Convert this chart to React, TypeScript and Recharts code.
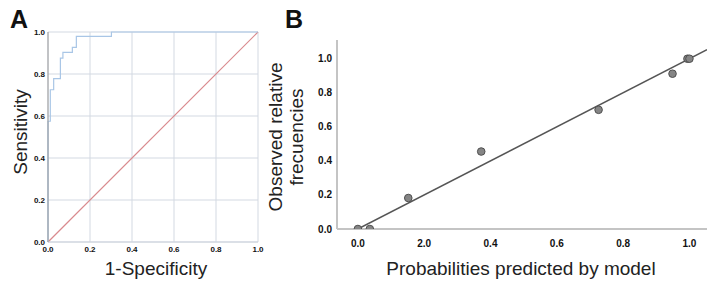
import React from 'react';
import { ComposedChart, Line, Scatter, XAxis, YAxis, CartesianGrid } from 'recharts';

// Panel A: ROC curve (step corners, stepBefore goes up first, then right)
const rocFpr = [0, 0.011, 0.027, 0.059, 0.071, 0.116, 0.135, 0.302, 1.0];
const rocTpr = [0, 0.575, 0.725, 0.778, 0.876, 0.903, 0.927, 0.979, 1.0];
const refX = [0, 1];
const refY = [0, 1];
const ticksA = [0, 0.2, 0.4, 0.6, 0.8, 1.0];

// Panel B: calibration plot
const predicted = [0.0, 0.036, 0.152, 0.372, 0.726, 0.949, 0.994, 1.0];
const observed = [0.0, 0.0, 0.182, 0.455, 0.7, 0.912, 1.0, 1.0];
const fitX = [0, 1.053];
const fitY = [0, 1.053];
const ticksBx = [0, 0.2, 0.4, 0.6, 0.8, 1.0];
const tickLabelsBx = ['0.0', '2.0', '0.4', '0.6', '0.8', '1.0'];
const ticksBy = [0, 0.2, 0.4, 0.6, 0.8, 1.0];

const rocData = rocFpr.map((x, i) => ({ x, y: rocTpr[i] }));
const refData = refX.map((x, i) => ({ x, y: refY[i] }));
const calData = predicted.map((x, i) => ({ x, y: observed[i] }));
const fitData = fitX.map((x, i) => ({ x, y: fitY[i] }));

const FONT = '"Liberation Sans", Arial, sans-serif';

const Dot = (p: any) => (
  <circle cx={p.cx} cy={p.cy} r={3.8} fill="#858585" stroke="#4f4f4f" strokeWidth={1} />
);

export default function App() {
  return (
    <div style={{ position: 'absolute', left: 0, top: 0, width: 719, height: 287, background: '#fff', fontFamily: FONT }}>
      <div style={{ position: 'absolute', left: 0, top: 0 }}>
        <ComposedChart width={270} height={287} margin={{ top: 32, right: 12, bottom: 25, left: 18 }}>
          <CartesianGrid stroke="#d3d9e2" strokeWidth={1} horizontalValues={ticksA} verticalValues={ticksA} />
          <XAxis
            type="number"
            dataKey="x"
            domain={[0, 1]}
            ticks={ticksA}
            height={20}
            tickSize={0}
            tickMargin={4}
            tickFormatter={(v: number) => v.toFixed(1)}
            tick={{ fill: '#111', fontSize: 8, fontWeight: 'bold', fontFamily: FONT }}
            axisLine={{ stroke: '#cdd3dc' }}
            tickLine={false}
          />
          <YAxis
            type="number"
            dataKey="y"
            domain={[0, 1]}
            ticks={ticksA}
            width={30}
            tickSize={0}
            tickMargin={3}
            tickFormatter={(v: number) => v.toFixed(1)}
            tick={{ fill: '#111', fontSize: 8, fontWeight: 'bold', fontFamily: FONT }}
            axisLine={{ stroke: '#9a9a9a' }}
            tickLine={false}
          />
          <Line data={refData} dataKey="y" type="linear" stroke="#d98a8e" strokeWidth={1.2} dot={false} isAnimationActive={false} />
          <Line data={rocData} dataKey="y" type="stepBefore" stroke="#a9c6e6" strokeWidth={1.2} dot={false} isAnimationActive={false} />
        </ComposedChart>
      </div>
      <div style={{ position: 'absolute', left: 260, top: 0 }}>
        <ComposedChart width={459} height={287} margin={{ top: 40, right: 12, bottom: 28, left: 37 }}>
          <XAxis
            type="number"
            dataKey="x"
            domain={[-0.063, 1.053]}
            allowDataOverflow
            ticks={ticksBx}
            height={30}
            tickSize={0}
            tickMargin={11}
            tickFormatter={(_v: number, i: number) => tickLabelsBx[i]}
            tick={{ fill: '#111', fontSize: 10, fontWeight: 'bold', fontFamily: FONT }}
            axisLine={{ stroke: '#c4c4c4', strokeWidth: 2 }}
            tickLine={false}
          />
          <YAxis
            type="number"
            dataKey="y"
            domain={[0, 1.11]}
            allowDataOverflow
            ticks={ticksBy}
            width={40}
            tickSize={0}
            tickMargin={5}
            tickFormatter={(v: number) => v.toFixed(1)}
            tick={{ fill: '#111', fontSize: 10, fontWeight: 'bold', fontFamily: FONT }}
            axisLine={{ stroke: '#c4c4c4', strokeWidth: 2 }}
            tickLine={false}
          />
          <Line data={fitData} dataKey="y" type="linear" stroke="#555" strokeWidth={1.5} dot={false} isAnimationActive={false} />
          <Scatter data={calData} dataKey="y" shape={Dot} isAnimationActive={false} />
        </ComposedChart>
      </div>
      <svg width={719} height={287} style={{ position: 'absolute', left: 0, top: 0, pointerEvents: 'none' }} fontFamily={FONT}>
        <text x={10} y={28} fontSize={25} fontWeight="bold" fill="#111">A</text>
        <text x={285} y={28} fontSize={25} fontWeight="bold" fill="#111">B</text>
        <text x={20} y={132} fontSize={19} fill="#222" textAnchor="middle" dominantBaseline="central" transform="rotate(-90 20 132)">Sensitivity</text>
        <text x={156} y={268} fontSize={19} fill="#222" textAnchor="middle" dominantBaseline="central">1-Specificity</text>
        <text x={275} y={137} fontSize={19} fill="#222" textAnchor="middle" dominantBaseline="central" transform="rotate(-90 275 137)">Observed relative</text>
        <text x={296} y={137} fontSize={19} fill="#222" textAnchor="middle" dominantBaseline="central" transform="rotate(-90 296 137)">frecuencies</text>
        <text x={521} y={268} fontSize={19} fill="#222" textAnchor="middle" dominantBaseline="central">Probabilities predicted by model</text>
      </svg>
    </div>
  );
}
